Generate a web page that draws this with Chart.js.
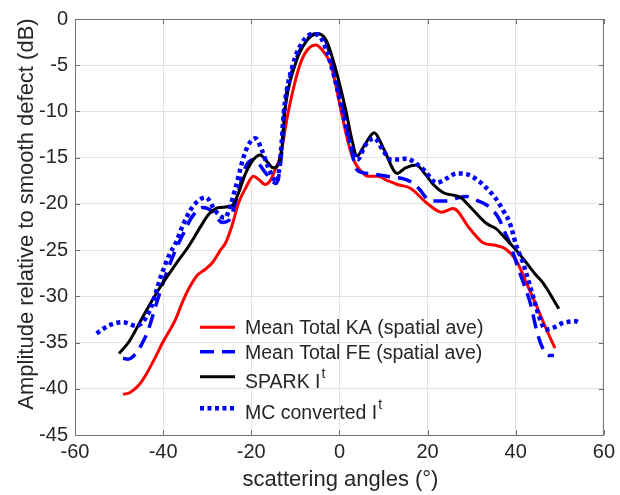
<!DOCTYPE html>
<html>
<head>
<meta charset="utf-8">
<script src="https://cdn.jsdelivr.net/npm/chart.js@4.4.1/dist/chart.umd.min.js"></script>
<style>
  html, body { margin: 0; padding: 0; background: #fff; }
</style>
</head>
<body>
<canvas id="scatterChart" width="620" height="495"></canvas>
<script>
// axis ticks
const angleTicks = [-60, -40, -20, 0, 20, 40, 60];
const levelTicks = [0, -5, -10, -15, -20, -25, -30, -35, -40, -45];

// Mean Total KA (spatial ave)
const kaAngles = [-49.1, -47.5, -45.5, -43.8, -42, -40.1, -37.1, -35.6, -34.1, -32.2, -30.5, -28.9, -27, -25.8, -24.4, -22.9, -21.3, -19.5, -18.2, -16.9, -15.6, -14.6, -13.5, -11.6, -9.0, -7.2, -5.3, -3.5, -1.9, 0.4, 1.8, 3.0, 4.1, 5.2, 6.4, 8.6, 11, 13.1, 16.1, 19.8, 23.2, 25.8, 29.6, 32.6, 35.6, 37.8, 40.1, 42.3, 44.6, 46.8, 48.9];
const kaLevels = [-40.6, -40.4, -39.6, -38.4, -36.8, -35.0, -32.4, -30.6, -29.1, -27.7, -27.1, -26.4, -25.0, -24.2, -22.4, -19.9, -18.3, -17.0, -17.4, -17.9, -17.4, -16.3, -15.0, -10.0, -5.0, -3.3, -2.8, -3.6, -5.0, -10.0, -13.0, -15.0, -16.0, -16.6, -17.0, -17.0, -17.5, -17.9, -18.3, -19.9, -20.9, -20.5, -22.7, -24.2, -24.5, -24.9, -26.1, -28.4, -30.9, -33.4, -35.6];

// Mean Total FE (spatial ave)
const feAngles = [-49.1, -48.0, -46.4, -45, -43.5, -41.6, -39.7, -37.1, -35.6, -33.3, -31, -28.9, -26.6, -25.1, -23.2, -21.3, -19.3, -18.4, -16.5, -14.4, -13.1, -12.5, -10.3, -7.5, -5.2, -3.2, -1.5, 1.0, 2.7, 3.7, 5.0, 6.4, 9.4, 12, 14.6, 16.5, 18.3, 19.8, 21.3, 24.3, 26.5, 28.8, 31, 33.3, 35, 36.3, 37.5, 38.6, 40.8, 43.4, 44.8, 46.3, 47.5, 48.7];
const feLevels = [-36.7, -36.8, -36.3, -35.3, -33.8, -30.9, -28.1, -24.9, -23.4, -21.3, -20.4, -20.8, -22.0, -21.8, -19.2, -16.0, -15.2, -15.6, -16.8, -17.8, -14.5, -10.0, -5.0, -2.3, -1.6, -2.3, -5.0, -10.0, -14.0, -16.1, -16.6, -16.7, -16.9, -17.1, -17.3, -17.7, -18.5, -19.4, -19.7, -19.7, -19.4, -19.2, -19.6, -20.1, -20.8, -21.7, -23.0, -24.2, -27.3, -30.9, -33.8, -35.8, -36.4, -36.4];

// SPARK I^t
const sparkAngles = [-50.0, -47.6, -44.6, -40.8, -37.1, -34.1, -31.3, -29.6, -27.3, -24.4, -22.9, -21.3, -19.5, -18.0, -16.5, -15.0, -13.1, -12.4, -10.1, -7.5, -4.9, -3.0, -1.1, 1.5, 2.8, 4.0, 5.5, 7.9, 10.0, 13.1, 15.0, 17.4, 19.5, 21.3, 23.6, 25.1, 27.5, 30.0, 33.3, 35.6, 37.8, 40.1, 42.3, 44.6, 46.1, 49.8];
const sparkLevels = [-36.2, -34.8, -32.2, -29.1, -26.5, -24.5, -22.3, -21.1, -20.4, -20.2, -18.8, -16.7, -15.2, -14.7, -15.4, -16.1, -14.2, -10.0, -5.0, -2.4, -1.6, -2.3, -5.0, -10.0, -13.0, -14.8, -13.8, -12.3, -14.0, -16.7, -16.1, -15.8, -16.8, -17.9, -18.8, -19.0, -19.3, -20.5, -22.1, -22.7, -23.8, -25.0, -26.3, -27.7, -28.5, -31.35];

// MC converted I^t
const mcAngles = [-55.1, -52.1, -49.1, -46.1, -43.1, -41.6, -40.4, -38.6, -37.1, -35.6, -33.3, -30.3, -28.1, -26.0, -24.8, -23.6, -21.3, -19.1, -17.5, -16.2, -14.2, -13.3, -12.6, -10.6, -8.5, -6.0, -4.0, -1.9, 0.75, 2.5, 4.1, 5.8, 7.9, 10.0, 11.6, 13.5, 15.3, 17.0, 19.1, 22.1, 24.5, 26.6, 29.0, 31.8, 33.8, 35.6, 37.5, 38.6, 39.3, 40.1, 41.6, 43.8, 45.7, 46.8, 48.5, 50.6, 53.6, 54.7];
const mcLevels = [-34.0, -33.1, -32.8, -33.2, -31.6, -29.5, -27.7, -25.5, -24.2, -22.4, -20.3, -19.3, -20.8, -21.5, -20.3, -18.3, -14.3, -12.9, -14.3, -16.0, -17.6, -14.5, -10.0, -5.0, -2.6, -1.6, -2.2, -5.0, -10.0, -13.5, -15.2, -13.7, -12.9, -14.3, -15.2, -15.2, -15.1, -15.5, -16.3, -17.7, -17.2, -16.7, -16.8, -17.6, -18.5, -19.5, -21.0, -22.0, -23.1, -24.5, -26.3, -29.8, -32.7, -33.6, -33.4, -32.9, -32.7, -32.9];

const fontFamily = "'Liberation Sans', Arial, Helvetica, sans-serif";
const textColor = "#262626";

function toPoints(angles, levels) {
    return angles.map((a, i) => ({ x: a, y: levels[i] }));
}

// box, inward tick marks, axis titles and the legend
const decorations = {
    id: "decorations",
    afterDraw(chart) {
        const { ctx, chartArea: a, scales: { x, y } } = chart;
        ctx.save();

        ctx.strokeStyle = "#707070";
        ctx.lineWidth = 1;
        ctx.strokeRect(a.left + 0.5, a.top + 0.5, a.right - a.left - 1, a.bottom - a.top);
        ctx.beginPath();
        angleTicks.forEach(v => {
            const px = Math.round(x.getPixelForValue(v)) + 0.5;
            ctx.moveTo(px, a.bottom); ctx.lineTo(px, a.bottom - 5);
            ctx.moveTo(px, a.top); ctx.lineTo(px, a.top + 5);
        });
        levelTicks.forEach(v => {
            const py = Math.round(y.getPixelForValue(v)) + 0.5;
            ctx.moveTo(a.left, py); ctx.lineTo(a.left + 5, py);
            ctx.moveTo(a.right, py); ctx.lineTo(a.right - 5, py);
        });
        ctx.stroke();

        ctx.fillStyle = textColor;
        ctx.font = "22px " + fontFamily;
        ctx.textAlign = "center";
        ctx.textBaseline = "alphabetic";
        ctx.fillText("scattering angles (°)", 340.5, 486);
        ctx.save();
        ctx.translate(33, 214);
        ctx.rotate(-Math.PI / 2);
        ctx.fillText("Amplitude relative to smooth defect (dB)", 0, 0);
        ctx.restore();

        // legend rows
        const lineY = [327.3, 351.7, 376.7, 408.3];
        const baseY = [334.3, 359.3, 388, 419.3];
        ctx.textAlign = "left";
        chart.data.datasets.forEach((ds, i) => {
            ctx.beginPath();
            ctx.strokeStyle = ds.borderColor;
            ctx.lineWidth = ds.borderWidth;
            ctx.setLineDash(ds.borderDash || []);
            ctx.moveTo(200, lineY[i]);
            ctx.lineTo(235, lineY[i]);
            ctx.stroke();
            ctx.setLineDash([]);

            const [main, sup] = ds.label.split("^");
            ctx.font = "19.5px " + fontFamily;
            ctx.fillText(main, 245, baseY[i]);
            if (sup) {
                const w = ctx.measureText(main).width;
                ctx.font = "14px " + fontFamily;
                ctx.fillText(sup, 245 + w + 1, baseY[i] - 10);
            }
        });

        ctx.restore();
    }
};

const ctx = document.getElementById("scatterChart").getContext("2d");
const chart = new Chart(ctx, {
    type: "line",
    data: {
        datasets: [
            {
                label: "Mean Total KA (spatial ave)",
                data: toPoints(kaAngles, kaLevels),
                borderColor: "#ff0000",
                borderWidth: 3,
                order: 4
            },
            {
                label: "Mean Total FE (spatial ave)",
                data: toPoints(feAngles, feLevels),
                borderColor: "#0000ff",
                borderWidth: 3.5,
                borderDash: [14, 8],
                order: 3
            },
            {
                label: "SPARK I^t",
                data: toPoints(sparkAngles, sparkLevels),
                borderColor: "#000000",
                borderWidth: 3,
                order: 2
            },
            {
                label: "MC converted I^t",
                data: toPoints(mcAngles, mcLevels),
                borderColor: "#0000ff",
                borderWidth: 4.5,
                borderDash: [4, 3.5],
                order: 1
            }
        ]
    },
    options: {
        responsive: false,
        animation: false,
        parsing: true,
        elements: {
            point: { radius: 0 },
            line: { cubicInterpolationMode: "monotone", fill: false }
        },
        layout: { padding: { top: 14, right: 11, left: 0, bottom: 0 } },
        plugins: {
            legend: { display: false },
            tooltip: { enabled: false }
        },
        scales: {
            x: {
                type: "linear",
                min: angleTicks[0],
                max: angleTicks[angleTicks.length - 1],
                afterBuildTicks: s => { s.ticks = angleTicks.map(v => ({ value: v })); },
                afterFit: s => { s.height = 60; },
                ticks: {
                    color: textColor,
                    padding: 5,
                    font: { family: fontFamily, size: 20 }
                },
                grid: { color: "#e3e3e3", drawTicks: false },
                border: { display: false }
            },
            y: {
                type: "linear",
                min: levelTicks[levelTicks.length - 1],
                max: levelTicks[0],
                afterBuildTicks: s => { s.ticks = levelTicks.slice().reverse().map(v => ({ value: v })); },
                afterFit: s => { s.width = 75; },
                ticks: {
                    color: textColor,
                    padding: 7,
                    font: { family: fontFamily, size: 20 }
                },
                grid: { color: "#e3e3e3", drawTicks: false },
                border: { display: false }
            }
        }
    },
    plugins: [decorations]
});
</script>
</body>
</html>
